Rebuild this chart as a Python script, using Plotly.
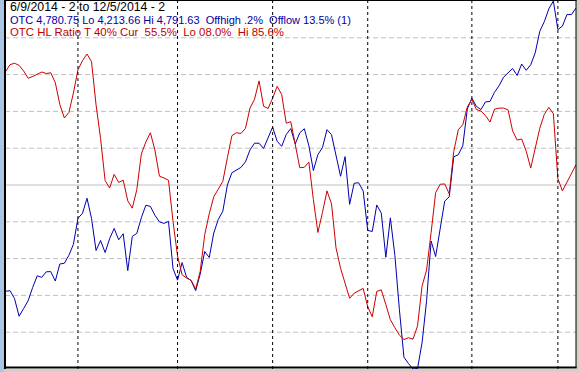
import plotly.graph_objects as go

# Trading-day index 0..126 (6/9/2014 .. 12/5/2014)
otc_close = [
    4335.7, 4336.7, 4324.1, 4296.5, 4308.6, 4320.9, 4341.7, 4360.0, 4357.6, 4366.3,
    4366.6, 4351.8, 4378.6, 4379.7, 4392.2, 4409.5, 4450.4, 4458.1, 4481.8, 4450.2,
    4399.8, 4415.5, 4396.6, 4418.3, 4434.4, 4416.6, 4426.1, 4368.2, 4421.8, 4426.6,
    4451.2, 4470.9, 4469.0, 4455.0, 4444.9, 4442.3, 4445.5, 4371.4, 4353.2, 4380.8,
    4357.6, 4352.4, 4336.7, 4362.7, 4398.2, 4388.7, 4427.2, 4448.6, 4461.6, 4502.6,
    4521.8, 4525.9, 4530.3, 4539.0, 4557.8, 4568.3, 4568.2, 4560.1, 4577.5, 4593.7,
    4571.3, 4563.4, 4581.9, 4591.3, 4567.2, 4584.7, 4591.0, 4564.4, 4525.4, 4550.5,
    4561.2, 4589.6, 4581.7, 4546.1, 4516.4, 4547.2, 4472.3, 4505.4, 4506.2, 4493.1,
    4431.3, 4429.7, 4471.3, 4458.4, 4389.2, 4451.0, 4391.9, 4306.7, 4232.1, 4222.2,
    4213.66, 4214.3, 4254.7, 4320.9, 4414.7, 4390.3, 4436.0, 4477.3, 4484.1, 4546.9,
    4550.2, 4564.4, 4622.1, 4639.0, 4626.2, 4621.0, 4633.1, 4633.9, 4648.3, 4658.4,
    4671.9, 4679.2, 4685.7, 4674.6, 4692.6, 4682.8, 4691.5, 4710.4, 4744.0, 4759.1,
    4779.3, 4791.63, 4746.7, 4752.2, 4770.3, 4770.3, 4780.75,
]

hl_ratio = [
    80.8, 82.7, 83.1, 82.5, 81.0, 79.0, 79.5, 80.2, 80.7, 80.3,
    80.5, 77.8, 71.9, 68.2, 69.7, 75.0, 81.3, 83.8, 85.6, 83.5,
    71.8, 62.6, 51.2, 49.2, 52.9, 50.7, 51.3, 45.7, 43.7, 48.7,
    58.4, 61.7, 64.2, 59.5, 52.4, 51.9, 51.3, 40.1, 30.7, 25.6,
    24.7, 24.1, 21.7, 26.5, 36.5, 42.2, 46.8, 48.9, 51.0, 57.4,
    63.4, 64.2, 64.0, 65.4, 70.9, 73.3, 78.3, 71.4, 70.8, 73.6,
    76.8, 74.6, 66.8, 67.2, 61.3, 54.7, 54.8, 56.2, 46.0, 37.1,
    42.5, 48.4, 44.9, 32.9, 27.4, 23.3, 19.2, 20.6, 21.3, 21.9,
    16.9, 14.2, 21.1, 21.5, 17.5, 13.4, 11.2, 9.2, 8.0, 8.5,
    8.1, 11.7, 22.5, 26.9, 37.1, 47.9, 50.2, 50.3, 47.6, 59.1,
    65.0, 66.4, 71.2, 73.3, 70.5, 70.1, 68.9, 67.1, 70.6, 70.9,
    70.9, 70.4, 64.7, 62.2, 62.5, 59.2, 54.6, 60.2, 65.4, 69.2,
    71.1, 69.4, 51.7, 48.4, 50.9, 53.0, 55.5,
]

month_starts = [16, 38, 59, 80, 103, 122]   # first trading day of Jul..Dec
grid_levels = [10, 20, 30, 40, 60, 70, 80, 90]
mid_level = 50
otc_lo, otc_hi = 4213.66, 4791.63

header_lines = [
    ("6/9/2014 - 2 to 12/5/2014 - 2", "#000000"),
    ("OTC 4,780.75 Lo 4,213.66 Hi 4,791.63\u00a0\u00a0Offhigh .2%\u00a0\u00a0Offlow 13.5% (1)", "#0000a0"),
    ("OTC HL Ratio T 40% Cur\u00a0\u00a055.5%\u00a0\u00a0Lo 08.0%\u00a0\u00a0Hi 85.6%", "#c00000"),
]

x = list(range(len(otc_close)))

W, H = 579, 372
ml, mr, mt, mb = 5, 3, 1, 3
pw, ph = W - ml - mr, H - mt - mb

def px_x(p):
    return (p - ml) / pw

def px_y(p):
    return (H - mb - p) / ph

fig = go.Figure()
fig.add_trace(go.Scatter(x=x, y=hl_ratio, mode="lines", yaxis="y2",
                         line=dict(color="#cc0000", width=1), hoverinfo="skip"))
fig.add_trace(go.Scatter(x=x, y=otc_close, mode="lines", yaxis="y",
                         line=dict(color="#0000b0", width=1), hoverinfo="skip"))

shapes = []
for g in grid_levels:
    shapes.append(dict(type="line", xref="paper", x0=0, x1=1, yref="y2", y0=g, y1=g,
                       line=dict(color="#c0c0c0", width=1, dash="5px,3px"), layer="below"))
shapes.append(dict(type="line", xref="paper", x0=0, x1=1, yref="y2", y0=mid_level, y1=mid_level,
                   line=dict(color="#c0c0c0", width=1), layer="below"))
for m in month_starts:
    shapes.append(dict(type="line", xref="x", x0=m, x1=m, yref="paper", y0=0, y1=1,
                       line=dict(color="#000000", width=1, dash="3px,3px"), layer="above"))

# frame
shapes += [
    dict(type="rect", xref="paper", yref="paper", x0=px_x(0), x1=px_x(4), y0=px_y(H), y1=px_y(0),
         fillcolor="#aac6e2", line=dict(width=0), layer="above"),
    dict(type="line", xref="paper", yref="paper", x0=px_x(5), x1=px_x(5), y0=px_y(369), y1=px_y(0),
         line=dict(color="#000000", width=2), layer="above"),
    dict(type="line", xref="paper", yref="paper", x0=px_x(4), x1=px_x(576.5), y0=px_y(367.5), y1=px_y(367.5),
         line=dict(color="#000000", width=2), layer="above"),
    dict(type="line", xref="paper", yref="paper", x0=px_x(4), x1=px_x(576.5), y0=px_y(0.5), y1=px_y(0.5),
         line=dict(color="#000000", width=1), layer="above"),
    dict(type="line", xref="paper", yref="paper", x0=px_x(576), x1=px_x(576), y0=px_y(368), y1=px_y(0),
         line=dict(color="#000000", width=1), layer="above"),
]

annotations = []
row_y = [7, 19.5, 32]
row_size = [12.3, 11, 11.4]
for (txt, col), yy, fs in zip(header_lines, row_y, row_size):
    annotations.append(dict(text=txt, xref="paper", yref="paper", x=px_x(8), y=px_y(yy),
                            xanchor="left", yanchor="middle", showarrow=False,
                            font=dict(family="Liberation Sans, Arial, sans-serif", size=fs, color=col)))

fig.update_layout(
    width=W, height=H,
    margin=dict(l=ml, r=mr, t=mt, b=mb, pad=0),
    paper_bgcolor="#d4d0c8", plot_bgcolor="#ffffff",
    showlegend=False,
    xaxis=dict(range=[-0.11, 126.0], showgrid=False, zeroline=False, showticklabels=False,
               ticks="", showline=False, fixedrange=True),
    yaxis=dict(range=[otc_lo, otc_hi], showgrid=False, zeroline=False, showticklabels=False,
               ticks="", showline=False, fixedrange=True),
    yaxis2=dict(range=[0, 100], overlaying="y", showgrid=False, zeroline=False,
                showticklabels=False, ticks="", showline=False, fixedrange=True),
    shapes=shapes,
    annotations=annotations,
)

fig.write_html(
    "out.html",
    config={"displayModeBar": False},
    post_script="document.body.style.margin='0';document.body.style.padding='0';"
                "document.body.style.overflow='hidden';",
)
